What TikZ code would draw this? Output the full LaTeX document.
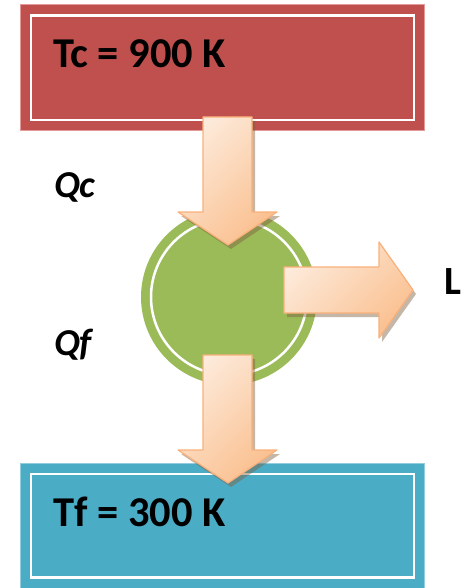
\documentclass[tikz,border=0pt]{standalone}
\usepackage{fontspec}
\setmainfont{Carlito}
\usetikzlibrary{shadings}
\definecolor{hotred}{HTML}{C0504D}
\definecolor{hotedge}{HTML}{E39A98}
\definecolor{coldblue}{HTML}{4BACC6}
\definecolor{coldedge}{HTML}{93CDDD}
\definecolor{enggreen}{HTML}{9BBB59}
\definecolor{arrlight}{HTML}{FDEADA}
\definecolor{arrdark}{HTML}{FAC090}
\definecolor{arredge}{HTML}{F9B07A}
\definecolor{shadowc}{HTML}{7F5F3F}
\tikzset{
  reservoir/.style={draw=#1, line width=1pt},
  innerline/.style={draw=white, line width=2.5pt},
  bigtext/.style={font=\bfseries\fontsize{42.5}{46}\selectfont, anchor=base west, inner sep=0pt},
  flowlabel/.style={font=\bfseries\itshape\fontsize{38}{40}\selectfont, anchor=base west, inner sep=0pt},
  arrowbody/.style={draw=arredge, line width=1.2pt, line join=round, left color=arrlight, right color=arrdark, shading angle=45},
  arrowshadow/.style={fill=shadowc, fill opacity=0.45, draw=none},
}
\begin{document}
\begin{tikzpicture}[x=1pt,y=-1pt]
\useasboundingbox (0,0) rectangle (462,588);
% hot reservoir
\fill[hotred, draw=hotedge, line width=1pt] (20.5,4.5) rectangle (424.5,130.5);
\draw[innerline] (31,15.5) rectangle (414,120);
\node[bigtext] (tc) at (53,68) {Tc = 900 K};
% cold reservoir
\fill[coldblue, draw=coldedge, line width=1pt] (20.5,463.5) rectangle (424.5,592);
\draw[innerline] (31,474) rectangle (414,577.5);
\node[bigtext] (tf) at (53,526) {Tf = 300 K};
% engine
\fill[enggreen] (229,297) circle (88);
\draw[white, line width=2.5pt] (229,297) circle (78);
\node[circle, minimum size=176pt, inner sep=0pt] (eng) at (229,297) {};
% arrows: shadows
\begin{scope}[shift={(3,4)}]
\fill[arrowshadow] (203,117) -- (252,117) -- (252,212) -- (277,212) -- (228,245) -- (178,212) -- (203,212) -- cycle;
\fill[arrowshadow] (284,267) -- (379,267) -- (379,242) -- (413,290) -- (379,338) -- (379,313) -- (284,313) -- cycle;
\fill[arrowshadow] (203,355) -- (252,355) -- (252,450) -- (277,450) -- (228,483) -- (178,450) -- (203,450) -- cycle;
\end{scope}
% arrows
\draw[arrowbody] (203,117) -- (252,117) -- (252,212) -- (277,212) -- (228,245) -- (178,212) -- (203,212) -- cycle;
\draw[arrowbody] (284,267) -- (379,267) -- (379,242) -- (413,290) -- (379,338) -- (379,313) -- (284,313) -- cycle;
\draw[arrowbody] (203,355) -- (252,355) -- (252,450) -- (277,450) -- (228,483) -- (178,450) -- (203,450) -- cycle;
% labels
\node[flowlabel] (qc) at (54,197) {Qc};
\node[flowlabel] (qf) at (54,355) {Qf};
\node[font=\bfseries\fontsize{40}{42}\selectfont, anchor=base west, inner sep=0pt] (l) at (444,294) {L};
\end{tikzpicture}
\end{document}
